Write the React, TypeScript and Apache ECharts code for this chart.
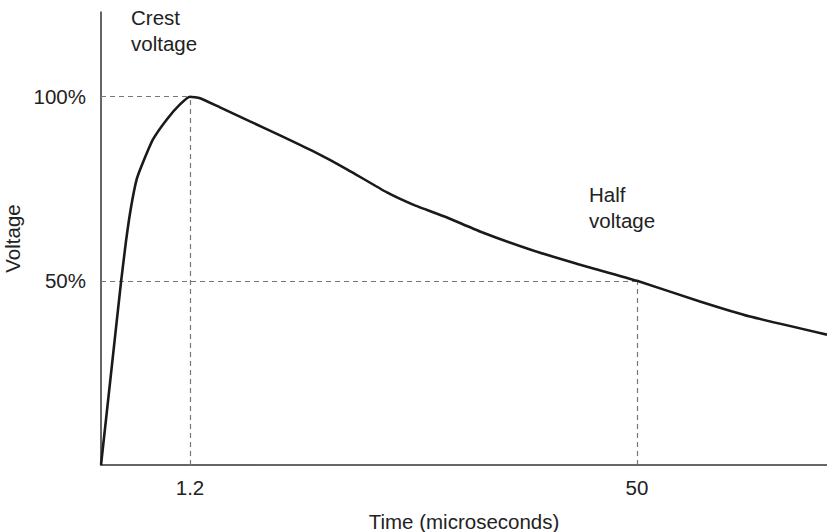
import React, { useEffect, useRef } from "react";
import * as echarts from "echarts";

// Schematic time position (0-100 along the axis) and voltage (% of crest)
const timePos = [0, 1.38, 2.75, 3.44, 4.13, 4.92, 5.79, 7.16, 9.09, 10.88, 12.26, 13.64, 16.39, 20.52, 24.66, 29.2, 33.88, 39.39, 42.98, 47.66, 52.2, 59.1, 65.98, 73.83, 82.5, 89.4, 100];
const voltage = [0, 24.8, 49.5, 60.7, 69.9, 77.6, 82.2, 88.4, 93.9, 97.9, 100, 99.6, 97.1, 93.3, 89.5, 85.2, 80.3, 74.0, 70.7, 67.2, 63.4, 58.5, 54.4, 50, 44.4, 40.3, 35.4];

const xTickPos = [12.26, 73.83];
const xTickLabels = ["1.2", "50"];
const yTickPos = [50, 100];
const yTickLabels = ["50%", "100%"];

const crestPoint = [12.26, 100];
const halfPoint = [73.83, 50];

const FONT = "'Liberation Sans', Arial, Helvetica, sans-serif";
const FS = 20.5;

export default function App() {
  const ref = useRef<HTMLDivElement>(null);
  useEffect(() => {
    if (!ref.current) return;
    const chart = echarts.init(ref.current, undefined, { renderer: "svg" });
    const dash = { color: "#777", width: 1.2, type: [5, 4] as any };
    chart.setOption({
      animation: false,
      textStyle: { fontFamily: FONT },
      grid: { left: 101, right: 0, top: 12, bottom: 67, containLabel: false, outerBoundsMode: "none" },
      xAxis: {
        type: "value",
        min: 0,
        max: 100,
        splitLine: { show: false },
        axisLine: { show: true, lineStyle: { color: "#333", width: 1.5 } },
        axisTick: { show: false },
        axisLabel: {
          customValues: xTickPos,
          formatter: (v: number) => {
            const i = xTickPos.indexOf(v);
            return i >= 0 ? xTickLabels[i] : "";
          },
          fontSize: FS,
          color: "#222",
          fontFamily: FONT,
          margin: 12,
        },
        name: "Time (microseconds)",
        nameLocation: "middle",
        nameGap: 46,
        nameTextStyle: { fontSize: FS, color: "#222", fontFamily: FONT },
      },
      yAxis: {
        type: "value",
        min: 0,
        max: 123,
        splitLine: { show: false },
        axisLine: { show: true, lineStyle: { color: "#333", width: 1.5 } },
        axisTick: { show: false },
        axisLabel: {
          customValues: yTickPos,
          formatter: (v: number) => {
            const i = yTickPos.indexOf(v);
            return i >= 0 ? yTickLabels[i] : "";
          },
          fontSize: FS,
          color: "#222",
          fontFamily: FONT,
          margin: 15,
        },
        name: "Voltage",
        nameLocation: "middle",
        nameGap: 76,
        nameTextStyle: { fontSize: FS, color: "#222", fontFamily: FONT },
      },
      series: [
        {
          type: "line",
          data: timePos.map((t, i) => [t, voltage[i]]),
          smooth: 0.15,
          symbol: "none",
          lineStyle: { color: "#1a1a1a", width: 2.6 },
          z: 5,
          markLine: {
            silent: true,
            symbol: "none",
            label: { show: false },
            lineStyle: dash,
            data: [
              [{ coord: [0, crestPoint[1]] }, { coord: crestPoint }],
              [{ coord: [crestPoint[0], 0] }, { coord: crestPoint }],
              [{ coord: [0, halfPoint[1]] }, { coord: halfPoint }],
              [{ coord: [halfPoint[0], 0] }, { coord: halfPoint }],
            ],
          },
        },
      ],
      graphic: [
        {
          type: "text",
          left: 131,
          top: 4,
          style: { text: "Crest\nvoltage", fontSize: FS, lineHeight: 26, fill: "#222", fontFamily: FONT },
        },
        {
          type: "text",
          left: 589,
          top: 181,
          style: { text: "Half\nvoltage", fontSize: FS, lineHeight: 26, fill: "#222", fontFamily: FONT },
        },
      ],
    });
    return () => chart.dispose();
  }, []);
  return <div ref={ref} style={{ width: 827, height: 532, position: "absolute", left: 0, top: 0 }} />;
}
